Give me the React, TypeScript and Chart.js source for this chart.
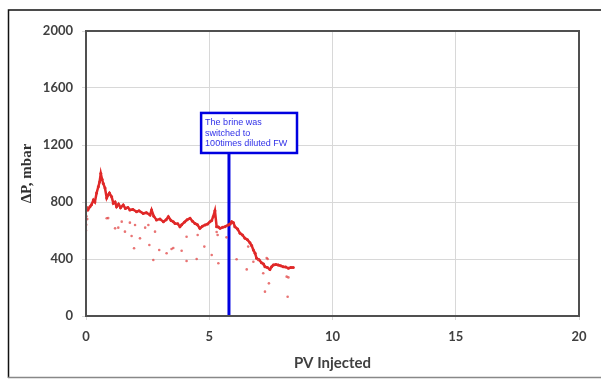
import React, { useEffect, useRef } from "react";
import { Chart, registerables } from "chart.js";

Chart.register(...registerables);

// Main pressure trace (PV injected, ΔP mbar)
const mainX = [0.0, 0.03, 0.08, 0.16, 0.22, 0.3, 0.36, 0.43, 0.5, 0.55, 0.6, 0.65, 0.7, 0.77, 0.84, 0.9, 0.95, 1.04, 1.11, 1.18, 1.24, 1.32, 1.4, 1.51, 1.6, 1.7, 1.78, 1.9, 2.05, 2.15, 2.32, 2.45, 2.6, 2.66, 2.75, 2.86, 3.0, 3.14, 3.25, 3.34, 3.45, 3.54, 3.61, 3.72, 3.81, 3.88, 4.0, 4.1, 4.22, 4.32, 4.42, 4.52, 4.62, 4.72, 4.83, 4.93, 5.03, 5.1, 5.16, 5.23, 5.3, 5.37, 5.44, 5.54, 5.64, 5.77, 5.85, 5.91, 5.98, 6.04, 6.15, 6.25, 6.35, 6.45, 6.55, 6.65, 6.72, 6.79, 6.86, 6.92, 7.02, 7.12, 7.2, 7.26, 7.36, 7.46, 7.53, 7.6, 7.7, 7.8, 7.9, 8.0, 8.1, 8.21, 8.31, 8.41];
const mainY = [744, 760, 745, 767, 780, 814, 800, 863, 907, 940, 1000, 960, 930, 898, 828, 850, 863, 837, 791, 800, 767, 785, 760, 779, 755, 762, 744, 748, 732, 738, 720, 725, 709, 744, 700, 674, 680, 662, 675, 697, 670, 662, 650, 648, 627, 640, 660, 675, 686, 665, 650, 640, 615, 630, 639, 645, 662, 670, 697, 739, 627, 625, 615, 622, 627, 639, 645, 662, 655, 627, 610, 580, 568, 545, 535, 514, 495, 463, 440, 405, 395, 374, 365, 346, 340, 327, 345, 358, 362, 358, 352, 346, 344, 335, 340, 341];

// Scattered readings below / around the trace
const scatX = [0.0, 0.01, 0.02, 0.03, 0.05, 0.84, 0.9, 1.18, 1.31, 1.45, 1.58, 1.78, 1.85, 1.95, 1.99, 2.19, 2.4, 2.53, 2.57, 2.73, 2.8, 2.97, 3.27, 3.47, 3.54, 3.88, 4.08, 4.08, 4.49, 4.53, 4.8, 5.1, 5.3, 5.34, 5.37, 5.7, 6.11, 6.52, 6.58, 6.79, 6.98, 7.19, 7.26, 7.33, 7.37, 7.42, 8.14, 8.18, 8.21];
const scatY = [600, 640, 700, 760, 680, 686, 687, 615, 620, 662, 592, 655, 561, 475, 639, 545, 620, 639, 498, 393, 592, 463, 440, 470, 477, 458, 386, 556, 400, 568, 487, 428, 590, 568, 370, 552, 398, 327, 487, 381, 393, 300, 171, 407, 400, 229, 276, 135, 271];

// Switch marker
const switchX = [5.8, 5.8];
const switchY = [0, 1144];
const noteLines = ["The brine was", "switched to", "100times diluted FW"];
const noteBox = { x1: 4.67, x2: 8.56, y1: 1425, y2: 1144 };

const xTicks = [0, 5, 10, 15, 20];
const yTicks = [0, 400, 800, 1200, 1600, 2000];

const framePlugin = {
  id: "framePlugin",
  afterDraw(chart: any) {
    const ctx = chart.ctx;
    const { left, right, top, bottom } = chart.chartArea;
    const xs = chart.scales.x;
    const ys = chart.scales.y;
    ctx.save();
    // plot area border
    ctx.strokeStyle = "#505050";
    ctx.lineWidth = 2;
    ctx.strokeRect(left, top, right - left, bottom - top);
    // outer frame
    ctx.strokeStyle = "#111";
    ctx.lineWidth = 1.5;
    ctx.beginPath();
    ctx.moveTo(8.5, 378);
    ctx.lineTo(8.5, 10);
    ctx.lineTo(601, 10);
    ctx.stroke();
    ctx.strokeStyle = "#888";
    ctx.beginPath();
    ctx.moveTo(8, 377.5);
    ctx.lineTo(601, 377.5);
    ctx.stroke();
    // annotation box
    const bx1 = xs.getPixelForValue(noteBox.x1);
    const bx2 = xs.getPixelForValue(noteBox.x2);
    const by1 = ys.getPixelForValue(noteBox.y1);
    const by2 = ys.getPixelForValue(noteBox.y2);
    ctx.fillStyle = "#fff";
    ctx.fillRect(bx1, by1, bx2 - bx1, by2 - by1);
    ctx.strokeStyle = "#0000e0";
    ctx.lineWidth = 2.5;
    ctx.strokeRect(bx1, by1, bx2 - bx1, by2 - by1);
    ctx.fillStyle = "#3030e8";
    ctx.font = "9px 'Liberation Sans', Arial, sans-serif";
    ctx.textBaseline = "middle";
    ctx.textAlign = "left";
    noteLines.forEach((t, i) => {
      ctx.fillText(t, bx1 + 4, by1 + 10 + i * 10.2);
    });
    ctx.restore();
  },
};

const tickFont = { family: "Lato, 'Open Sans', sans-serif", weight: "bold" as const, size: 13 };

export default function App() {
  const ref = useRef<HTMLCanvasElement>(null);
  useEffect(() => {
    if (!ref.current) return;
    const chart = new Chart(ref.current, {
      type: "scatter",
      data: {
        datasets: [
          {
            label: "scatter",
            data: scatX.map((x, i) => ({ x, y: scatY[i] })),
            pointRadius: 1.3,
            pointBackgroundColor: "rgba(225,70,70,0.75)",
            pointBorderWidth: 0,
            showLine: false,
          },
          {
            label: "trace",
            data: mainX.map((x, i) => ({ x, y: mainY[i] })),
            showLine: true,
            borderColor: "#e02828",
            borderWidth: 2.5,
            pointRadius: 1.5,
            pointBackgroundColor: "#e02828",
            pointBorderWidth: 0,
            tension: 0,
          },
          {
            label: "switch",
            data: switchX.map((x, i) => ({ x, y: switchY[i] })),
            showLine: true,
            borderColor: "#0000e0",
            borderWidth: 3,
            pointRadius: 0,
          },
        ],
      },
      options: {
        responsive: false,
        animation: false,
        layout: { padding: { left: 0, top: 31, right: 22, bottom: 0 } },
        plugins: { legend: { display: false }, tooltip: { enabled: false } },
        scales: {
          x: {
            type: "linear",
            min: 0,
            max: 20,
            afterFit: (s: any) => {
              s.height = 63;
            },
            afterBuildTicks: (s: any) => {
              s.ticks = xTicks.map((v) => ({ value: v }));
            },
            grid: { color: "#d8d8d8", lineWidth: 1, tickLength: 4 },
            border: { display: false },
            ticks: {
              padding: 9,
              color: "#404040",
              font: tickFont,
              callback: (v: any) => String(v),
            },
            title: {
              display: true,
              text: "PV Injected",
              color: "#404040",
              font: { family: "Lato, 'Open Sans', sans-serif", weight: "bold", size: 15 },
              padding: { top: 0, bottom: 7 },
            },
          },
          y: {
            type: "linear",
            min: 0,
            max: 2000,
            afterFit: (s: any) => {
              s.width = 86;
            },
            afterBuildTicks: (s: any) => {
              s.ticks = yTicks.map((v) => ({ value: v }));
            },
            grid: { color: "#d8d8d8", lineWidth: 1, tickLength: 4 },
            border: { display: false },
            ticks: {
              padding: 9,
              color: "#404040",
              font: tickFont,
              callback: (v: any) => String(v),
            },
            title: {
              display: true,
              text: "ΔP, mbar",
              color: "#303030",
              font: { family: "'Liberation Serif', 'DejaVu Serif', serif", weight: "bold", size: 15 },
              padding: { top: 18, bottom: 0 },
            },
          },
        },
      },
      plugins: [framePlugin],
    });
    return () => chart.destroy();
  }, []);
  return (
    <div style={{ position: "fixed", left: 0, top: 0, width: 601, height: 379, background: "#fff" }}>
      <canvas ref={ref} width={601} height={379} style={{ width: 601, height: 379, display: "block" }} />
    </div>
  );
}
